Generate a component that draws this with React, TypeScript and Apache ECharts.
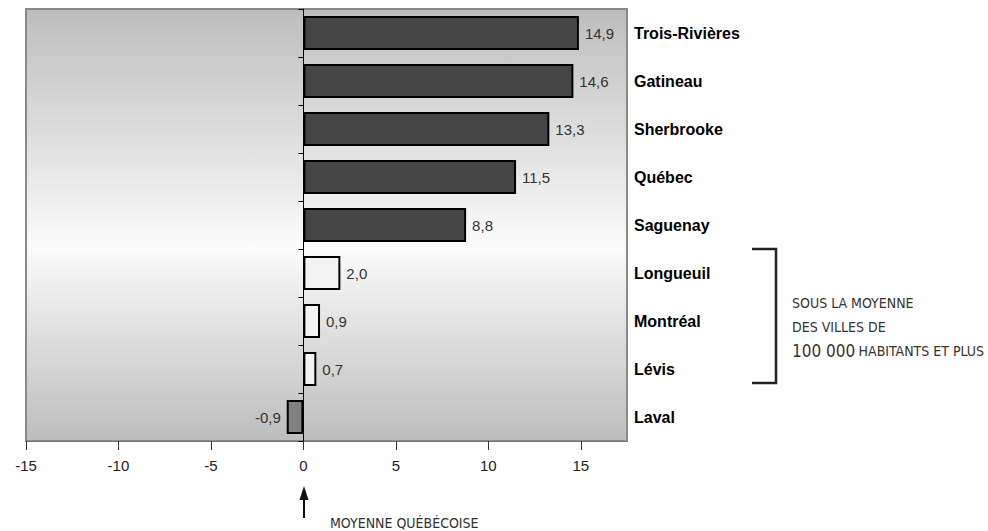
import React, { useEffect, useRef } from "react";
import * as echarts from "echarts";

const cities = ["Trois-Rivières", "Gatineau", "Sherbrooke", "Québec", "Saguenay", "Longueuil", "Montréal", "Lévis", "Laval"];
const values = [14.9, 14.6, 13.3, 11.5, 8.8, 2.0, 0.9, 0.7, -0.9];
const fills = ["#454545", "#454545", "#454545", "#454545", "#454545", "#f3f3f3", "#f3f3f3", "#f3f3f3", "#808080"];
const xTicks = [-15, -10, -5, 0, 5, 10, 15];

export default function App() {
  const ref = useRef<HTMLDivElement>(null);
  useEffect(() => {
    document.body.style.margin = "0";
    const chart = echarts.init(ref.current!, null, { renderer: "svg" });
    const narrow = "'Liberation Sans Narrow', 'DejaVu Sans Condensed', 'Liberation Sans', sans-serif";
    chart.setOption({
      animation: false,
      grid: {
        left: 26,
        right: 361,
        top: 9,
        bottom: 90,
        show: true,
        borderColor: "#8a8a8a",
        borderWidth: 2,
        backgroundColor: {
          type: "linear", x: 0, y: 0, x2: 0, y2: 1,
          colorStops: [
            { offset: 0, color: "#bdbdbd" },
            { offset: 0.55, color: "#fbfbfb" },
            { offset: 1, color: "#bdbdbd" },
          ],
        },
      },
      xAxis: {
        type: "value",
        min: -15,
        max: 17.5,
        interval: 5,
        splitLine: { show: false },
        axisLine: { show: true, onZero: false, lineStyle: { color: "#777", width: 1 } },
        axisTick: { show: true, length: 9, lineStyle: { color: "#333" }, customValues: xTicks },
        axisLabel: {
          color: "#222",
          fontSize: 15,
          fontFamily: "'Liberation Sans', Arial, sans-serif",
          margin: 17,
          customValues: xTicks,
        },
      },
      yAxis: [
        {
          type: "category",
          data: cities,
          inverse: true,
          axisLine: { show: true, onZero: true, lineStyle: { color: "#000", width: 1 } },
          axisTick: { show: true, length: 5, lineStyle: { color: "#000" } },
          axisLabel: { show: false },
        },
        {
          type: "category",
          data: cities,
          inverse: true,
          position: "right",
          axisLine: { show: false },
          axisTick: { show: false },
          axisLabel: {
            color: "#000",
            fontSize: 16,
            fontWeight: "bold",
            fontFamily: "'Liberation Sans', Arial, sans-serif",
            margin: 7,
          },
        },
      ],
      series: [
        {
          type: "bar",
          yAxisIndex: 0,
          barWidth: 34,
          data: values.map((v, i) => ({
            value: v,
            itemStyle: { color: fills[i], borderColor: "#000", borderWidth: 2 },
            label: { position: v < 0 ? "left" : "right" },
          })),
          label: {
            show: true,
            distance: 6,
            color: "#333",
            fontSize: 15,
            fontFamily: "'Liberation Sans', Arial, sans-serif",
            formatter: (p: any) => p.value.toFixed(1).replace(".", ","),
          },
        },
      ],
      graphic: [
        {
          type: "polyline",
          shape: { points: [[752, 249], [776, 249], [776, 383], [752, 383]] },
          style: { stroke: "#222", lineWidth: 2.5, fill: "none" },
        },
        {
          type: "text",
          x: 792,
          y: 303,
          style: { text: "SOUS LA MOYENNE", fill: "#333", fontSize: 14, fontFamily: narrow, verticalAlign: "middle" },
        },
        {
          type: "text",
          x: 792,
          y: 327,
          style: { text: "DES VILLES DE", fill: "#333", fontSize: 14, fontFamily: narrow, verticalAlign: "middle" },
        },
        {
          type: "text",
          x: 792,
          y: 351,
          style: {
            text: "{big|100 000} {small|HABITANTS ET PLUS}",
            verticalAlign: "middle",
            rich: {
              big: { fontSize: 17, fill: "#333", fontFamily: narrow },
              small: { fontSize: 14, fill: "#333", fontFamily: narrow },
            },
          },
        },
        {
          type: "line",
          shape: { x1: 304, y1: 497, x2: 304, y2: 518 },
          style: { stroke: "#111", lineWidth: 2 },
        },
        {
          type: "polygon",
          shape: { points: [[299.5, 500], [304, 486], [308.5, 500]] },
          style: { fill: "#111" },
        },
        {
          type: "text",
          x: 330,
          y: 523,
          style: { text: "MOYENNE QUÉBÉCOISE", fill: "#333", fontSize: 14, fontFamily: narrow, verticalAlign: "middle" },
        },
      ],
    });
    return () => chart.dispose();
  }, []);
  return <div ref={ref} style={{ width: 988, height: 531 }} />;
}
